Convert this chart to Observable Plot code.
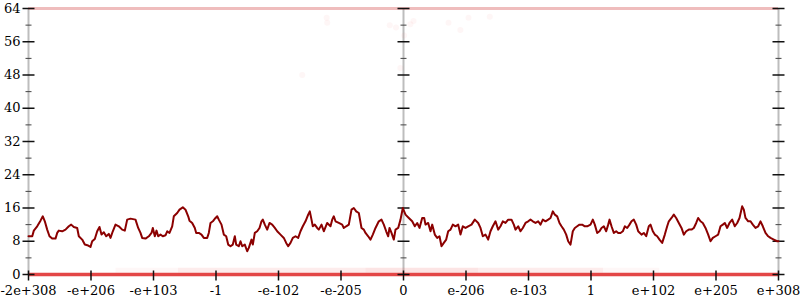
<!DOCTYPE html>
<html>
<head>
<meta charset="utf-8">
<script src="https://cdn.jsdelivr.net/npm/d3@7"></script>
<script src="https://cdn.jsdelivr.net/npm/@observablehq/plot@0.6"></script>
<style>
  html, body { margin: 0; padding: 0; background: #fff; }
  #chart { width: 800px; height: 300px; }
</style>
</head>
<body>
<div id="chart"></div>
<script>
// x position: ordered float64 range, one unit per labelled tick, 0 at the centre
const xTickPos = [-6, -5, -4, -3, -2, -1, 0, 1, 2, 3, 4, 5, 6];
const xTickLabels = ["-2e+308", "-e+206", "-e+103", "-1", "-e-102", "-e-205", "0", "e-206", "e-103", "1", "e+102", "e+205", "e+308"];
const yMajor = [0, 8, 16, 24, 32, 40, 48, 56, 64];
const yMinor = [4, 12, 20, 28, 36, 44, 52, 60];
const axisPos = [-6, 0, 6];

// mean-bits series
const linePos = [
 -6.0,-5.94,-5.915,-5.861,-5.808,-5.771,-5.739,-5.701,-5.664,-5.621,-5.568,-5.541,-5.515,-5.461,-5.408,-5.355,-5.317,-5.275,-5.221,-5.195,
 -5.141,-5.099,-5.045,-5.008,-4.981,-4.939,-4.901,-4.864,-4.832,-4.795,-4.757,-4.715,-4.688,-4.651,-4.608,-4.555,-4.501,-4.459,-4.421,-4.368,
 -4.288,-4.245,-4.208,-4.181,-4.128,-4.075,-4.032,-4.011,-3.979,-3.952,-3.925,-3.888,-3.851,-3.808,-3.781,-3.744,-3.701,-3.675,-3.621,-3.584,
 -3.531,-3.488,-3.445,-3.424,-3.381,-3.339,-3.317,-3.275,-3.232,-3.195,-3.141,-3.115,-3.088,-3.051,-3.008,-2.981,-2.955,-2.912,-2.875,-2.837,
 -2.805,-2.768,-2.731,-2.699,-2.677,-2.635,-2.608,-2.581,-2.539,-2.501,-2.475,-2.432,-2.411,-2.379,-2.341,-2.304,-2.272,-2.251,-2.219,-2.181,
 -2.144,-2.101,-2.059,-2.021,-1.968,-1.915,-1.877,-1.845,-1.808,-1.771,-1.728,-1.685,-1.648,-1.611,-1.568,-1.525,-1.499,-1.472,-1.451,-1.419,
 -1.381,-1.355,-1.312,-1.275,-1.221,-1.168,-1.141,-1.115,-1.088,-1.035,-0.981,-0.955,-0.917,-0.875,-0.832,-0.795,-0.757,-0.715,-0.672,-0.635,
 -0.608,-0.565,-0.528,-0.491,-0.448,-0.395,-0.352,-0.315,-0.277,-0.245,-0.224,-0.192,-0.155,-0.128,-0.085,-0.048,-0.011,0.032,0.085,0.139,
 0.181,0.219,0.256,0.299,0.331,0.352,0.395,0.432,0.459,0.501,0.539,0.576,0.608,0.645,0.683,0.715,0.752,0.789,0.832,0.875,
 0.912,0.949,0.992,1.035,1.088,1.141,1.195,1.232,1.269,1.312,1.355,1.392,1.429,1.472,1.515,1.552,1.589,1.632,1.675,1.728,
 1.765,1.792,1.835,1.872,1.909,1.952,1.995,2.032,2.069,2.112,2.155,2.192,2.229,2.272,2.315,2.352,2.389,2.421,2.459,2.496,
 2.528,2.565,2.603,2.635,2.672,2.709,2.741,2.779,2.816,2.859,2.901,2.939,2.992,3.029,3.061,3.099,3.136,3.168,3.205,3.243,
 3.275,3.296,3.328,3.365,3.403,3.435,3.472,3.509,3.541,3.579,3.616,3.648,3.685,3.723,3.755,3.808,3.845,3.883,3.925,3.952,
 3.989,4.021,4.059,4.096,4.139,4.181,4.219,4.245,4.288,4.325,4.363,4.405,4.448,4.485,4.523,4.565,4.608,4.645,4.683,4.715,
 4.752,4.789,4.832,4.875,4.912,4.949,4.992,5.035,5.072,5.109,5.141,5.179,5.216,5.259,5.301,5.339,5.376,5.419,5.445,5.472,
 5.515,5.552,5.589,5.632,5.675,5.712,5.749,5.792,5.835,5.872,5.925,5.979,6.0
];
const lineBits = [
 9.2,9.2,10.56,11.6,12.96,14.0,12.8,10.8,9.2,8.64,8.64,10.0,10.56,10.4,10.8,11.6,12.0,11.44,11.2,9.2,
 8.4,7.2,6.96,6.64,8.0,8.56,10.4,11.44,9.6,10.16,9.2,9.76,8.8,10.4,12.0,11.6,10.8,10.56,13.2,13.44,
 13.2,11.2,10.0,8.8,8.64,9.2,10.0,11.2,9.2,10.56,9.2,9.6,9.2,9.44,10.4,10.0,11.6,14.0,14.8,15.6,
 16.16,15.6,14.0,12.96,12.4,11.2,10.0,10.0,9.6,8.8,8.8,10.0,12.4,12.8,13.6,14.0,13.2,12.0,9.6,9.2,
 7.2,6.8,7.2,9.2,7.2,6.8,8.0,6.8,7.2,5.6,6.4,8.4,7.2,10.0,10.4,11.2,12.8,13.2,12.0,10.8,
 12.4,12.0,11.2,10.4,9.6,8.8,7.6,6.8,7.6,8.8,9.2,8.8,10.4,11.6,12.8,14.4,15.2,13.2,11.6,12.0,
 11.2,10.8,12.0,10.4,12.4,11.6,13.2,14.0,12.8,12.4,12.0,11.2,11.6,12.0,15.6,16.0,15.2,14.8,11.2,10.8,
 10.0,9.2,8.4,9.6,11.2,12.8,13.2,12.0,10.4,9.2,11.2,10.0,8.4,10.8,11.2,13.2,16.0,14.4,13.6,12.8,
 11.6,12.4,11.2,13.6,13.6,12.0,12.4,10.4,12.0,9.6,8.8,9.2,6.8,7.6,8.4,10.4,10.8,12.0,11.6,12.0,
 9.6,11.6,11.2,11.6,12.0,13.2,12.4,11.2,9.2,9.6,8.4,10.4,11.6,12.8,10.8,11.6,12.8,12.4,13.2,13.2,
 12.0,10.8,11.6,10.4,11.2,12.4,12.8,13.2,12.8,12.4,12.8,12.0,13.2,12.8,13.2,13.6,15.2,14.4,14.0,12.4,
 11.6,10.8,9.6,8.0,7.2,10.4,11.2,11.6,12.0,12.0,11.6,11.6,12.0,13.2,12.0,10.0,10.4,11.2,11.6,10.4,
 12.0,13.2,11.6,10.0,10.4,10.0,10.0,10.4,11.6,11.2,12.0,12.8,13.2,12.0,10.4,9.6,10.0,9.2,11.6,12.0,
 10.4,9.6,9.2,8.4,7.6,9.6,11.6,12.8,13.6,14.4,13.6,12.4,11.2,9.6,10.4,10.8,10.8,11.2,12.4,13.6,
 12.8,12.4,11.2,9.6,8.0,8.8,9.2,9.6,11.6,12.0,12.4,11.2,12.4,13.2,11.6,12.4,13.6,16.4,15.6,13.6,
 12.8,12.8,12.0,11.2,11.6,12.8,11.6,10.0,9.2,8.8,8.4,8.0,8.0
];

// faint individual samples (scattered near the top)
const scatterPos = [-1.22, -1.23, -0.22, -0.12, 0.11, 0.16, 0.72, 0.91, 1.04, 1.38, -1.62, -0.05, 0.01];
const scatterBits = [60.6, 61.8, 60.0, 59.4, 60.2, 61.0, 60.6, 58.8, 61.8, 62.0, 48.0, 49.7, 57.5];

// faint band of samples just above zero
const bandStart = [-4.6, -3.6, -0.6];
const bandEnd = [4.1, 3.2, 1.2];
const bandOpacity = [0.05, 0.07, 0.06];

const hMajor = { draw(c) { c.moveTo(-6, 0); c.lineTo(6, 0); } };
const hMinor = { draw(c) { c.moveTo(-3, 0); c.lineTo(3, 0); } };
const vMajor = { draw(c) { c.moveTo(0, -4); c.lineTo(0, 6); } };

const series = linePos.map((p, i) => ({ pos: p, bits: lineBits[i] }));
const scatter = scatterPos.map((p, i) => ({ pos: p, bits: scatterBits[i] }));
const band = bandStart.map((s, i) => ({ x1: s, x2: bandEnd[i], op: bandOpacity[i] }));
const majorTicks = axisPos.flatMap(a => yMajor.map(v => ({ a, v })));
const minorTicks = axisPos.flatMap(a => yMinor.map(v => ({ a, v })));

const chart = Plot.plot({
  width: 800,
  height: 300,
  marginLeft: 28,
  marginRight: 22,
  marginTop: 8,
  marginBottom: 26,
  x: { domain: [-6, 6], axis: null },
  y: { domain: [0, 64], axis: null },
  style: { fontFamily: "DejaVu Serif", fontSize: "13px", background: "#fff", overflow: "visible" },
  marks: [
    Plot.ruleX(axisPos, { stroke: "#bdbdbd", strokeWidth: 2 }),
    Plot.ruleY(band, { y: 1, x1: "x1", x2: "x2", stroke: "#f06060", strokeWidth: 5, strokeOpacity: d => d.op }),
    Plot.ruleY([64], { stroke: "#d85a5a", strokeWidth: 3, strokeOpacity: 0.4 }),
    Plot.ruleY([0], { stroke: "#e23c3c", strokeWidth: 3.5, strokeOpacity: 0.95 }),
    Plot.dot(scatter, { x: "pos", y: "bits", r: 3, fill: "#f08080", fillOpacity: 0.07, stroke: null }),
    Plot.dot(minorTicks, { x: "a", y: "v", symbol: hMinor, stroke: "#444", strokeWidth: 1, fill: "none" }),
    Plot.dot(majorTicks, { x: "a", y: "v", symbol: hMajor, stroke: "#111", strokeWidth: 1.5, fill: "none" }),
    Plot.dot(xTickPos, { x: d => d, y: 0, symbol: vMajor, stroke: "#111", strokeWidth: 1.5, fill: "none" }),
    Plot.line(series, { x: "pos", y: "bits", stroke: "#8b0000", strokeWidth: 2, curve: "linear" }),
    Plot.text(yMajor, { y: d => d, text: d => String(d), frameAnchor: "left", textAnchor: "end", dx: -8, fill: "#000", fontSize: 13 }),
    Plot.text(xTickLabels, { x: (d, i) => xTickPos[i], text: d => d, frameAnchor: "bottom", dy: 16, lineAnchor: "middle", fill: "#000", fontSize: 13 })
  ]
});
document.getElementById("chart").appendChild(chart);
</script>
</body>
</html>
